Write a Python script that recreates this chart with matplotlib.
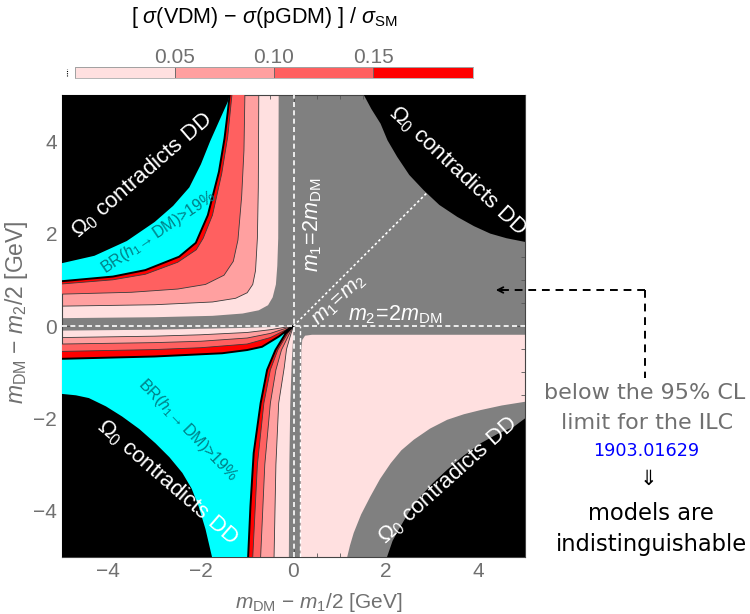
import matplotlib
matplotlib.use("Agg")
import matplotlib.pyplot as plt

plt.rcParams['font.family'] = ['Liberation Sans', 'DejaVu Sans']
plt.rcParams['mathtext.fontset'] = 'custom'
plt.rcParams['mathtext.rm'] = 'Liberation Sans'
plt.rcParams['mathtext.it'] = 'Liberation Sans:italic'
plt.rcParams['mathtext.bf'] = 'Liberation Sans:bold'

# difference levels shown in the colour bar
levels = [0.0, 0.05, 0.10, 0.15, 0.20]
level_colors = ["#ffe0e0", "#ffa0a0", "#ff6060", "#ff0000"]
level_ticks = [0.05, 0.10, 0.15]

GRAY = "#808080"
CYAN = "#00ffff"
TEAL = "#007f86"

# upper-left quadrant: contour curves from left edge to top edge
ul_lvl0_x = [-5, -3, -1.75, -1.1, -0.75, -0.55, -0.45, -0.38, -0.35, -0.33, -0.32]
ul_lvl0_y = [0.17, 0.19, 0.22, 0.27, 0.34, 0.45, 0.62, 0.9, 1.3, 1.9, 5]
ul_05_x = [-5, -3, -1.75, -1.25, -1.0, -0.88, -0.82, -0.78, -0.76, -0.75]
ul_05_y = [0.43, 0.46, 0.52, 0.6, 0.72, 0.9, 1.2, 1.9, 3.0, 5]
ul_10_x = [-5, -3.5, -2.5, -1.9, -1.5, -1.3, -1.2, -1.12, -1.07, -1.05]
ul_10_y = [0.69, 0.73, 0.8, 0.9, 1.1, 1.4, 1.86, 2.8, 3.8, 5]
ul_15_x = [-5, -3.9, -3.2, -2.5, -2.1, -1.95, -1.75, -1.55, -1.42, -1.33]
ul_15_y = [0.91, 1.0, 1.12, 1.38, 1.65, 1.9, 2.4, 3.3, 4.1, 5]
ul_br_x = [-5, -3.9, -3.2, -2.47, -2.11, -1.85, -1.61, -1.49, -1.42, -1.38]
ul_br_y = [0.97, 1.07, 1.21, 1.5, 1.8, 2.4, 3.34, 4.06, 4.63, 5]
ul_dd_x = [-5, -4.3, -3.6, -3.0, -2.6, -2.25, -2.0, -1.8, -1.6, -1.42, -1.38]
ul_dd_y = [1.36, 1.52, 1.84, 2.25, 2.6, 3.0, 3.5, 4.0, 4.45, 4.85, 5]

# lower-left quadrant: curves from left edge through the origin to bottom edge
ll_lvl0_x = [-5, -3, -2, -1, -0.4, 0, -0.01, -0.04, -0.07, -0.09, -0.1]
ll_lvl0_y = [-0.1, -0.08, -0.06, -0.04, -0.02, 0, -0.3, -0.8, -1.7, -3, -5]
ll_05_x = [-5, -3, -2, -1, -0.5, -0.2, 0, -0.05, -0.15, -0.2, -0.32, -0.38, -0.42]
ll_05_y = [-0.25, -0.22, -0.19, -0.14, -0.08, -0.03, 0, -0.15, -0.5, -0.9, -1.67, -3, -5]
ll_10_x = [-5, -3, -2, -1, -0.5, -0.2, 0, -0.08, -0.26, -0.38, -0.5, -0.62, -0.71]
ll_10_y = [-0.39, -0.36, -0.33, -0.26, -0.16, -0.06, 0, -0.15, -0.52, -0.95, -1.67, -3, -5]
ll_15_x = [-5, -3, -2, -1, -0.5, -0.2, 0, -0.12, -0.34, -0.5, -0.64, -0.78, -0.88]
ll_15_y = [-0.55, -0.51, -0.47, -0.39, -0.25, -0.1, 0, -0.15, -0.52, -0.95, -1.67, -3, -5]
ll_br_x = [-5, -3, -1.54, -1.0, -0.68, -0.32, -0.1, 0, -0.17, -0.39, -0.57, -0.71, -0.86, -0.93, -0.98]
ll_br_y = [-0.71, -0.66, -0.59, -0.52, -0.45, -0.23, -0.06, 0, -0.16, -0.52, -0.95, -1.67, -2.75, -3.9, -5]
ll_dd_x = [-5, -4.7, -4.42, -4.05, -3.70, -3.33, -2.98, -2.68, -2.40, -2.2, -2.05, -1.9, -1.76]
ll_dd_y = [-1.47, -1.5, -1.56, -1.74, -1.96, -2.23, -2.54, -2.84, -3.18, -3.52, -3.9, -4.4, -5]

# lower-right quadrant: from bottom edge to right edge
lr_lvl0_x = [0.15, 0.16, 0.17, 0.19, 0.25, 0.4, 2, 5]
lr_lvl0_y = [-5, -2, -0.5, -0.3, -0.21, -0.19, -0.19, -0.19]
lr_gray_x = [1.16, 1.22, 1.30, 1.46, 1.66, 1.87, 2.10, 2.33, 2.60, 2.95, 3.32, 3.68, 4.04, 4.5, 5]
lr_gray_y = [-5, -4.75, -4.48, -4.08, -3.69, -3.31, -2.97, -2.69, -2.46, -2.22, -2.03, -1.91, -1.82, -1.72, -1.64]
lr_dd_x = [2.02, 2.14, 2.31, 2.51, 2.74, 3.02, 3.32, 3.67, 4.04, 4.4, 4.76, 5]
lr_dd_y = [-5, -4.65, -4.34, -4.0, -3.69, -3.39, -3.11, -2.81, -2.54, -2.34, -2.18, -2.0]

# upper-right quadrant: from top edge to right edge
ur_dd_x = [1.52, 1.68, 1.88, 2.03, 2.24, 2.5, 2.81, 3.15, 3.54, 3.9, 4.25, 4.6, 5]
ur_dd_y = [5, 4.7, 4.38, 4.02, 3.66, 3.27, 2.94, 2.62, 2.36, 2.16, 2.0, 1.9, 1.82]
diag_end = 2.87
strip_edge = 0.13

fig = plt.figure(figsize=(7.5, 6.14), dpi=100)
ax = fig.add_axes([62 / 750, 1 - 557 / 614, 463 / 750, 462 / 614])
ax.set_facecolor(GRAY)


def fill_corner(xs, ys, corner, color, z):
    ax.fill(list(xs) + [corner[0]], list(ys) + [corner[1]],
            color=color, lw=0, zorder=z)


# upper left
fill_corner(ul_lvl0_x, ul_lvl0_y, (-5, 5), level_colors[0], 1)
fill_corner(ul_05_x, ul_05_y, (-5, 5), level_colors[1], 2)
fill_corner(ul_10_x, ul_10_y, (-5, 5), level_colors[2], 3)
fill_corner(ul_15_x, ul_15_y, (-5, 5), level_colors[3], 4)
fill_corner(ul_br_x, ul_br_y, (-5, 5), CYAN, 5)
fill_corner(ul_dd_x, ul_dd_y, (-5, 5), "black", 6)

# lower left
fill_corner(ll_lvl0_x, ll_lvl0_y, (-5, -5), level_colors[0], 1)
fill_corner(ll_05_x, ll_05_y, (-5, -5), level_colors[1], 2)
fill_corner(ll_10_x, ll_10_y, (-5, -5), level_colors[2], 3)
fill_corner(ll_15_x, ll_15_y, (-5, -5), level_colors[3], 4)
fill_corner(ll_br_x, ll_br_y, (-5, -5), CYAN, 5)
fill_corner(ll_dd_x, ll_dd_y, (-5, -5), "black", 6)

# lower right
fill_corner(lr_lvl0_x, lr_lvl0_y, (5, -5), level_colors[0], 1)
fill_corner(lr_gray_x, lr_gray_y, (5, -5), GRAY, 2)
fill_corner(lr_dd_x, lr_dd_y, (5, -5), "black", 3)

# upper right
fill_corner(ur_dd_x, ur_dd_y, (5, 5), "black", 3)

# contour lines
for xs, ys in [(ul_05_x, ul_05_y), (ul_10_x, ul_10_y), (ul_15_x, ul_15_y),
               (ll_05_x, ll_05_y), (ll_10_x, ll_10_y), (ll_15_x, ll_15_y)]:
    ax.plot(xs, ys, color="#3a3a3a", lw=0.6, zorder=7)
ax.plot(ul_br_x, ul_br_y, color="black", lw=1.4, zorder=7)
ax.plot(ll_br_x, ll_br_y, color="black", lw=1.4, zorder=7)

# kinematic lines
ax.axhline(0, color="white", ls=(0, (3, 2)), lw=1.2, zorder=8)
ax.axvline(0, color="white", ls=(0, (3, 2)), lw=1.2, zorder=8)
ax.plot([strip_edge, strip_edge], [-5, 0], color="white", ls=(0, (3, 2)), lw=1.0, zorder=8)
ax.plot([0, diag_end], [0, diag_end], color="white", ls=(0, (1.5, 1.5)), lw=1.2, zorder=8)

ax.text(0.42, 2.2, r"$m_1\!=\!2m_{\rm DM}$", color="white", fontsize=15.5,
        rotation=90, ha="center", va="center", zorder=9)
ax.text(1.0, 0.55, r"$m_1\!=\!m_2$", color="white", fontsize=15,
        rotation=43, ha="center", va="center", zorder=9)
ax.text(2.2, 0.24, r"$m_2\!=\!2m_{\rm DM}$", color="white", fontsize=15.5,
        ha="center", va="center", zorder=9)

dd_label = r"$\Omega_0$ contradicts DD"
ax.text(-3.27, 3.27, dd_label, color="white", fontsize=16, rotation=41,
        ha="center", va="center", zorder=9)
ax.text(3.54, 3.37, dd_label, color="white", fontsize=16, rotation=-43,
        ha="center", va="center", zorder=9)
ax.text(-2.72, -3.37, dd_label, color="white", fontsize=16, rotation=-41,
        ha="center", va="center", zorder=9)
ax.text(3.33, -3.33, dd_label, color="white", fontsize=16, rotation=42,
        ha="center", va="center", zorder=9)

br_label = r"BR($h_1\!\rightarrow$DM)>19%"
ax.text(-2.9, 2.02, br_label, color=TEAL, fontsize=11.5, rotation=34,
        ha="center", va="center", zorder=9)
ax.text(-2.28, -2.25, br_label, color=TEAL, fontsize=11.5, rotation=-46,
        ha="center", va="center", zorder=9)

ax.set_xlim(-5, 5)
ax.set_ylim(-5, 5)
ax.set_xticks([-4, -2, 0, 2, 4])
ax.set_yticks([-4, -2, 0, 2, 4])
ax.set_xticks([x * 0.5 for x in range(-10, 11)], minor=True)
ax.set_yticks([y * 0.5 for y in range(-10, 11)], minor=True)
ax.tick_params(which="both", direction="in", top=True, right=True,
               color="#555555", labelcolor="#707070", labelsize=15)
ax.tick_params(which="major", length=6, width=0.8)
ax.tick_params(which="minor", length=3, width=0.6)
for s in ax.spines.values():
    s.set_color("#444444")
    s.set_linewidth(0.8)

ax.set_xlabel(r"$m_{\rm DM}$ $-$ $m_1/2$ [GeV]", color="#707070", fontsize=15)
ax.xaxis.set_label_coords(0.555, -0.074)
ax.set_ylabel(r"$m_{\rm DM}$ $-$ $m_2/2$ [GeV]", color="#707070", fontsize=16.5)
ax.yaxis.set_label_coords(-0.07, 0.53)

# colour bar
cax = fig.add_axes([75 / 750, 1 - 78 / 614, 398 / 750, 11 / 614])
for i in range(len(level_colors)):
    cax.barh(0, levels[i + 1] - levels[i], left=levels[i], height=1,
             color=level_colors[i], edgecolor="#666666", lw=0.6)
cax.set_xlim(levels[0], levels[-1])
cax.set_ylim(-0.5, 0.5)
cax.set_yticks([])
cax.set_xticks(level_ticks)
cax.set_xticklabels(["%.2f" % t for t in level_ticks])
cax.xaxis.tick_top()
cax.tick_params(axis="x", length=0, pad=0, labelcolor="#707070", labelsize=15)
for s in cax.spines.values():
    s.set_color("#aaaaaa")
    s.set_linewidth(0.6)
cax.plot([-0.004, -0.004], [-0.3, 0.3], color="black", ls=(0, (1, 1)), lw=0.8, clip_on=False)
fig.text(265 / 750, 1 - 18 / 614,
         r"[ $\sigma$(VDM) $-$ $\sigma$(pGDM) ] / $\sigma_{\rm SM}$",
         fontsize=15.5, ha="center", va="center")

# side note on the ILC sensitivity
fig.add_artist(plt.Line2D([645 / 750, 645 / 750], [1 - 290 / 614, 1 - 378 / 614],
                          color="black", ls=(0, (4, 3)), lw=1.4))
fig.add_artist(plt.Line2D([645 / 750, 500 / 750], [1 - 290 / 614, 1 - 290 / 614],
                          color="black", ls=(0, (4, 3)), lw=1.4))
ax.annotate("", xy=(493 / 750, 1 - 290 / 614), xytext=(505 / 750, 1 - 290 / 614),
            xycoords="figure fraction", textcoords="figure fraction",
            arrowprops=dict(arrowstyle="->", color="black", lw=1.3))
note_font = ["DejaVu Sans"]
fig.text(645 / 750, 1 - 393 / 614, "below the 95% CL", color="#707070", fontsize=16,
         ha="center", va="center", family=note_font)
fig.text(647 / 750, 1 - 423 / 614, "limit for the ILC", color="#707070", fontsize=16,
         ha="center", va="center", family=note_font)
fig.text(646 / 750, 1 - 451 / 614, "1903.01629", color="#0000ff", fontsize=12.7,
         ha="center", va="center", family=note_font)
fig.text(648 / 750, 1 - 479 / 614, "\u21d3", color="black", fontsize=15,
         ha="center", va="center", family=note_font)
fig.text(651 / 750, 1 - 513 / 614, "models are", color="black", fontsize=16.3,
         ha="center", va="center", family=note_font)
fig.text(651 / 750, 1 - 545 / 614, "indistinguishable", color="black", fontsize=16.3,
         ha="center", va="center", family=note_font)

fig.savefig("out.png", dpi=100)
